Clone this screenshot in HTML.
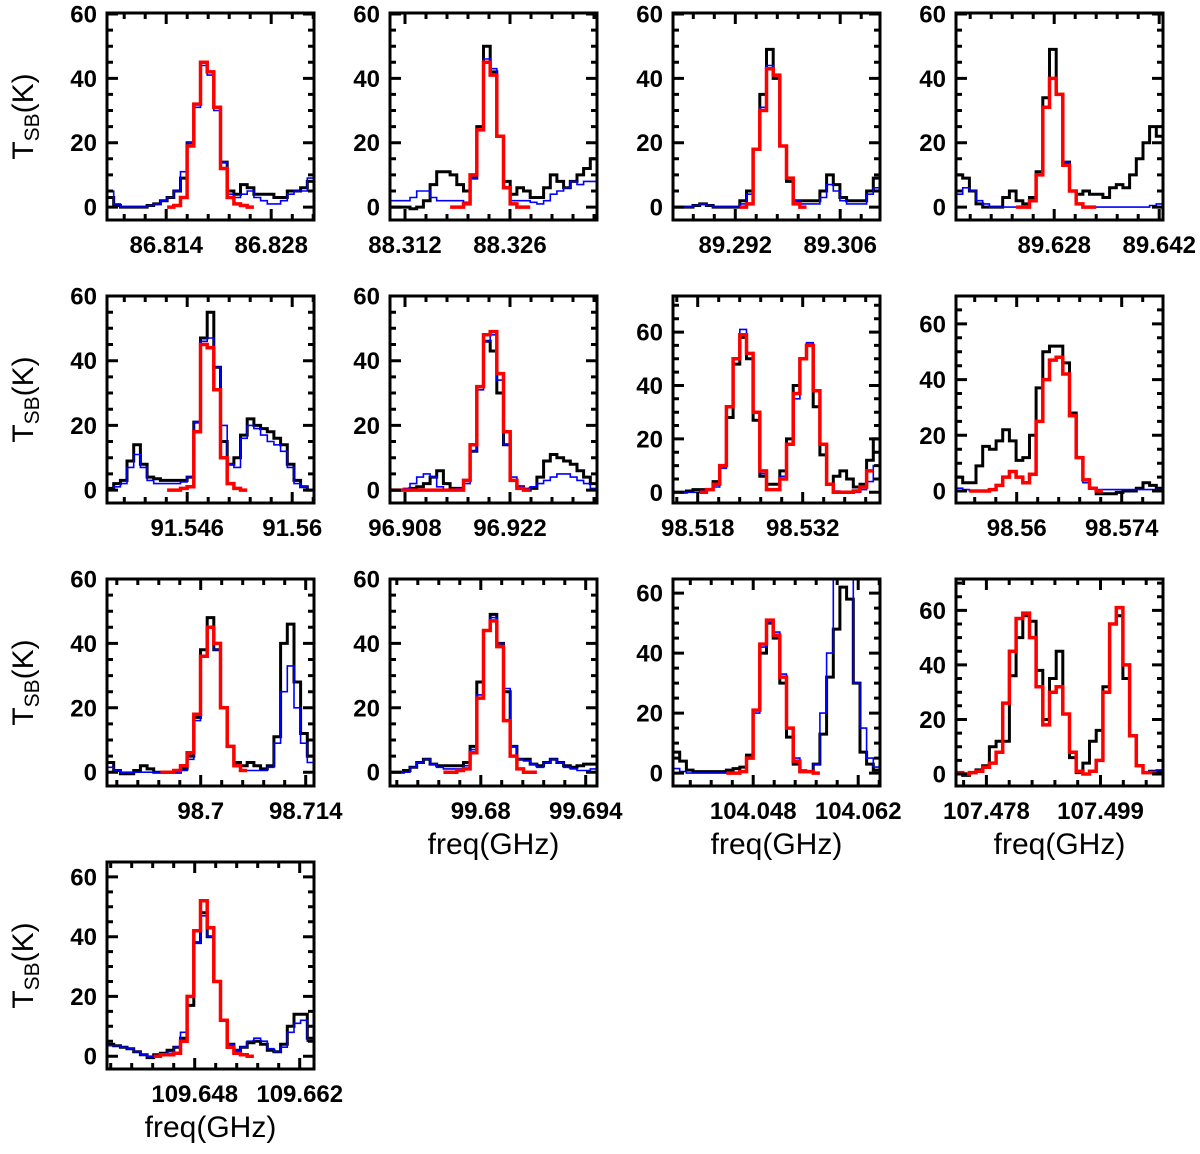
<!DOCTYPE html>
<html><head><meta charset="utf-8"><title>Spectra grid</title>
<style>
html,body{margin:0;padding:0;background:#fff;}
svg{display:block;font-family:"Liberation Sans",sans-serif;}
</style></head>
<body>
<svg id="chart" width="1200" height="1154" viewBox="0 0 1200 1154" xmlns="http://www.w3.org/2000/svg">
<rect x="0" y="0" width="1200" height="1154" fill="#fff"/>
</svg>
<script>
// ---- data: observed (black), model (blue), fit (red) ----
const p1Black=[3,0.5,0,0,0,0,0.5,1,2,3,5,9,20,32,45,42,31,14,5,4,7,6,4,4,4,3,3,5,5,6,8];
const p1Blue=[5,1,0,0,0,0,0.5,1,2,3,5,11,20,31,44,41,30,14,4,3,4,5,3,2,1,1,2,4,5,5,9];
const p1Red=[0,0.5,3,19,32,45,42,31,12,3,1,0.5,0];
const p2Black=[0,0,0,-0.5,0,2,7,11,11,10,7,5,9,25,50,42,22,8,4,6,5,3,3,6,10,8,6,8,10,12,15];
const p2Blue=[2,2,2,3,5,5,3,2,2,2,2,1.5,9,24,46,43,22,6,2,2,2,1.5,1,2,4,5,6,8,7,8,8];
const p2Red=[0,0,1,10,24,45,41,22,6,1,0,0];
const p3Black=[0,0,0,0.5,1,0.5,0,0,0,0,2,5,18,35,49,40,19,8,2,2,2,2,5,10,7,3,2,2,2,5,9];
const p3Blue=[0,0,0,0.5,1,0.5,0,0,0,0,1,4,18,31,44,41,19,9,2,1,1,1,3,7,5,2,1,1,1,4,6];
const p3Red=[0,1,18,30,43,41,19,9,1,0];
const p4Black=[10,9,5,1,0,0,0,3,5,2,1,3,11,34,49,35,14,5,4,5,4,4,3,6,7,6,10,15,20,25,22];
const p4Blue=[4,6,5,2,1,0,0,0,0,0,0,2,10,31,40,35,14,5,1,0,0,0,0,0,0,0,0,0,0,0.5,1];
const p4Red=[0,0,2,10,31,40,35,13,5,1,0,0];
const p5Black=[0.5,2,3,9,14,8,4,3.5,3,3,3,3,4,21,47,55,38,15,8,10,17,22,20,19,18,16,14,8,3,1,0];
const p5Blue=[0,1,2,7,11,7,3,2,2,2,2,2.5,4,21,46,47,38,20,8,7,16,20,19,17,15,14,12,7,2,1,0];
const p5Red=[0,0,0.5,1,18,45,44,31,10,2,0.5,0];
const p6Black=[0,0,0,0.5,1,2,4,6,2,0.5,0.5,3,12,32,46,43,30,14,3,1,0,0.5,4,9,11,10,9,8,6,4,2];
const p6Blue=[0,0,0.5,2,4,5,4,1,0,0,0.5,2,12,31,46,48,34,14,4,1,0.5,1,2,3,4,5,5,4,3,2,0.5];
const p6Red=[0,0,0,0,0,0,0,0,0,0,0,3,14,32,48,49,36,18,3,0.5,0];
const p7Black=[0,0,0.5,1,1,1,4,10,28,48,58,50,27,6,3,3,8,20,40,50,55,32,14,3,6,8,5,2,3,12,20];
const p7Blue=[0,0,0,0,0.5,1,2,9,32,50,61,52,30,7,1,1,6,18,35,50,56,38,18,3,0.5,0,0,0,1,4,10];
const p7Red=[0,1,3,10,32,50,59,52,30,8,1,1,5,18,37,50,55,38,18,3,0,0,0,0.5,2,8];
const p8Black=[5,3,3,9,16,15,18,22,18,11,12,20,37,50,52,52,46,28,12,4,1,-1,-1,-1,-0.5,0,0,1,3,2,1];
const p8Blue=[1,0.5,0,0,0,0.5,2,5,7,5,3,6,25,40,47,48,42,27,12,3,1,0.5,0.5,0.5,0.5,0.5,0.5,0.5,0.5,0.5,0.5];
const p8Red=[0,0,0,0.5,2,5,7,5,3,6,25,40,47,48,42,27,12,4,1,0];
const p9Black=[3,0.5,-0.5,-0.5,0.5,2,1,0,0,0,0,1,5,17,38,48,38,20,8,3,2,3,2,1,2,11,40,46,28,12,5];
const p9Blue=[1.5,0.5,0,0,0,0,0,0,0,0,0,0.5,4,16,36,45,38,20,8,2,0.5,0.5,0.5,0.5,1.5,9,25,33,20,9,3];
const p9Red=[0,0,0.5,2,6,18,36,45,40,20,8,2,0.5];
const p10Black=[0,0,0.5,1.5,3,4,2.5,2,2,2,2,3,8,28,44,49,40,25,8,4,4,2.5,2,3,4,3,2,1.5,2,2.5,2.5];
const p10Blue=[0,0,0,1.5,3,4,2.5,1.5,1,1,1,2,7,24,44,48,40,26,8,4,3.5,2.5,1.5,3,4,3,1.5,1,0.5,0.5,1];
const p10Red=[0,0,0.5,1,6,23,44,47,39,16,5,1,0,0];
const p11Black=[7,4,1,0.5,0.5,0.5,0.5,0.5,1,1.5,2,6,21,40,50,45,30,12,3,0.5,0.5,3,13,32,48,62,58,30,7,3,1];
const p11Blue=[1.5,0.5,0,0,0,0,0,0,0,0,0.5,5,20,42,50,47,33,15,5,1,0.5,3,20,40,70,75,65,30,15,5,2];
const p11Red=[0,0,0.5,5,21,43,51,46,32,15,4,0.5,0.5,0];
const p12Black=[0,-0.5,0.5,1.5,3,10,12,12,36,50,58,56,38,20,35,45,22,6,0.5,4,12,16,32,55,58,35,14,3,0.5,1,1];
const p12Blue=[0.5,0,0.5,1,2.5,4,8,26,45,57,59,50,32,18,30,32,22,8,1,0,1,5,30,55,61,40,14,3,0.5,1,1.5];
const p12Red=[0.5,0,0.5,1,2.5,4,8,26,45,57,59,50,32,18,30,32,22,8,1,0,1,5,30,55,61,40,14,3,0.5,0.5];
const p13Black=[4,3.5,3,2.5,1.5,0.5,-0.5,0.5,1,2,3,6,17,38,48,40,25,12,4,2,3,4.5,5,4,2,1.5,4,10,14,14,6];
const p13Blue=[3.5,3.5,3,2.5,1.5,0.5,0,0,0.5,1.5,3,8,20,38,47,40,25,12,4,2,3,5,6,5,2.5,1.5,3,8,11,12,5];
const p13Red=[0,0.5,0.5,1,5,20,42,52,43,25,12,3,1,0.5,0];

// ---- axis ranges & tick labels ----
const xTickLabels=[["86.814","86.828"],["88.312","88.326"],["89.292","89.306"],["89.628","89.642"],
["91.546","91.56"],["96.908","96.922"],["98.518","98.532"],["98.56","98.574"],
["98.7","98.714"],["99.68","99.694"],["104.048","104.062"],["107.478","107.499"],["109.648","109.662"]];
const xMins=[86.8061,88.310,89.2837,89.6149,91.5353,96.906,98.5147,98.5519,98.6875,99.6679,104.0373,107.4724,109.6363];
const xWidths=[0.0276,0.0276,0.0276,0.0276,0.0276,0.0276,0.0276,0.0276,0.0276,0.0276,0.0276,0.0381,0.0276];
const yMins=[-4,-4,-4,-4,-4,-4,-4,-4.3,-4.3,-4.3,-4.3,-4.4,-4.3];
const yMaxs=[60.3,60.3,60.3,60.3,60,60,73.5,70,60,60,64.7,71.5,65];
const redStarts=[9,9,10,9,9,0,4,2,8,8,8,0,7];
const yTickLabels=["0","20","40","60"];

const blacks=[p1Black,p2Black,p3Black,p4Black,p5Black,p6Black,p7Black,p8Black,p9Black,p10Black,p11Black,p12Black,p13Black];
const blues=[p1Blue,p2Blue,p3Blue,p4Blue,p5Blue,p6Blue,p7Blue,p8Blue,p9Blue,p10Blue,p11Blue,p12Blue,p13Blue];
const reds=[p1Red,p2Red,p3Red,p4Red,p5Red,p6Red,p7Red,p8Red,p9Red,p10Red,p11Red,p12Red,p13Red];

const NS="http://www.w3.org/2000/svg";
const svg=document.getElementById('chart');
const colLeft=[107,390,673,956], rowTop=[13,296,579,862], W=207, H=207;

function mk(tag,attrs,parent){const e=document.createElementNS(NS,tag);for(const k in attrs)e.setAttribute(k,attrs[k]);(parent||svg).appendChild(e);return e;}

for(let p=0;p<13;p++){
  const col=p%4,row=Math.floor(p/4);
  const L=colLeft[col],T=rowTop[row];
  const xmin=xMins[p],xmax=xMins[p]+xWidths[p],ymin=yMins[p],ymax=yMaxs[p];
  const X=v=>L+(v-xmin)/(xmax-xmin)*W;
  const Y=v=>T+H-(v-ymin)/(ymax-ymin)*H;
  const g=mk('g',{});
  
  
  const cp=mk('clipPath',{id:'clip'+p},g);
  mk('rect',{x:L,y:T,width:W,height:H},cp);
  const n=blacks[p].length, df=(xmax-xmin)/n;
  function stepPath(vals,start){
    let d='';
    for(let i=0;i<vals.length;i++){
      const c=start+i;
      const x0=X(xmin+c*df),x1=X(xmin+(c+1)*df),y=Y(vals[i]);
      d+=(i===0?'M'+x0.toFixed(1)+' '+y.toFixed(1):'V'+y.toFixed(1))+'H'+x1.toFixed(1);
    }
    return d;
  }
  const bp=mk('path',{d:stepPath(blacks[p],0),fill:'none',stroke:'#000','stroke-width':3,'clip-path':'url(#clip'+p+')'},g);
  
  
  const up=mk('path',{d:stepPath(blues[p],0),fill:'none',stroke:'#0000ff','stroke-width':1.6,'clip-path':'url(#clip'+p+')'},g);
  
  
  const rp=mk('path',{d:stepPath(reds[p],redStarts[p]),fill:'none',stroke:'#ff0000','stroke-width':3.5,'clip-path':'url(#clip'+p+')'},g);
  
  
  const fr=mk('rect',{x:L,y:T,width:W,height:H,fill:'none',stroke:'#000','stroke-width':3},g);
  
  
  let td='';
  const t0=parseFloat(xTickLabels[p][0]),t1=parseFloat(xTickLabels[p][1]),minor=(t1-t0)/5;
  for(let k=-20;k<=20;k++){
    const v=t0+k*minor; if(v<xmin-1e-9||v>xmax+1e-9)continue;
    const len=(k%5===0)?11:6, x=X(v).toFixed(1);
    td+='M'+x+' '+(T+H)+'v'+(-len)+'M'+x+' '+T+'v'+len;
  }
  for(let v=0;v<=ymax;v+=5){
    const len=(v%20===0)?11:6, y=Y(v).toFixed(1);
    td+='M'+L+' '+y+'h'+len+'M'+(L+W)+' '+y+'h'+(-len);
  }
  const tk=mk('path',{d:td,stroke:'#000','stroke-width':3,fill:'none'},g);
  
  
  for(let j=0;j<2;j++){
    const t=mk('text',{x:X(parseFloat(xTickLabels[p][j])),y:T+H+33,'text-anchor':'middle','font-size':24,'font-weight':'bold'},g);
    t.textContent=xTickLabels[p][j];
    
    
  }
  for(let j=0;j<yTickLabels.length;j++){
    const v=parseFloat(yTickLabels[j]);
    const t=mk('text',{x:L-10,y:Y(v)+8.5,'text-anchor':'end','font-size':24,'font-weight':'bold'},g);
    t.textContent=yTickLabels[j];
    
    
  }
  if(col===0){
    const cy=T+H/2;
    const yt=mk('text',{x:0,y:0,transform:'translate(33,'+cy+') rotate(-90)','text-anchor':'middle','font-size':30},g);
    yt.innerHTML='T<tspan font-size="21" dy="6">SB</tspan><tspan dy="-6">(K)</tspan>';
    
    
  }
  if((row===2&&col>0)||row===3){
    const xt=mk('text',{x:L+W/2,y:T+H+68,'text-anchor':'middle','font-size':30},g);
    xt.textContent='freq(GHz)';
    
    
  }
}
</script>
</body></html>
